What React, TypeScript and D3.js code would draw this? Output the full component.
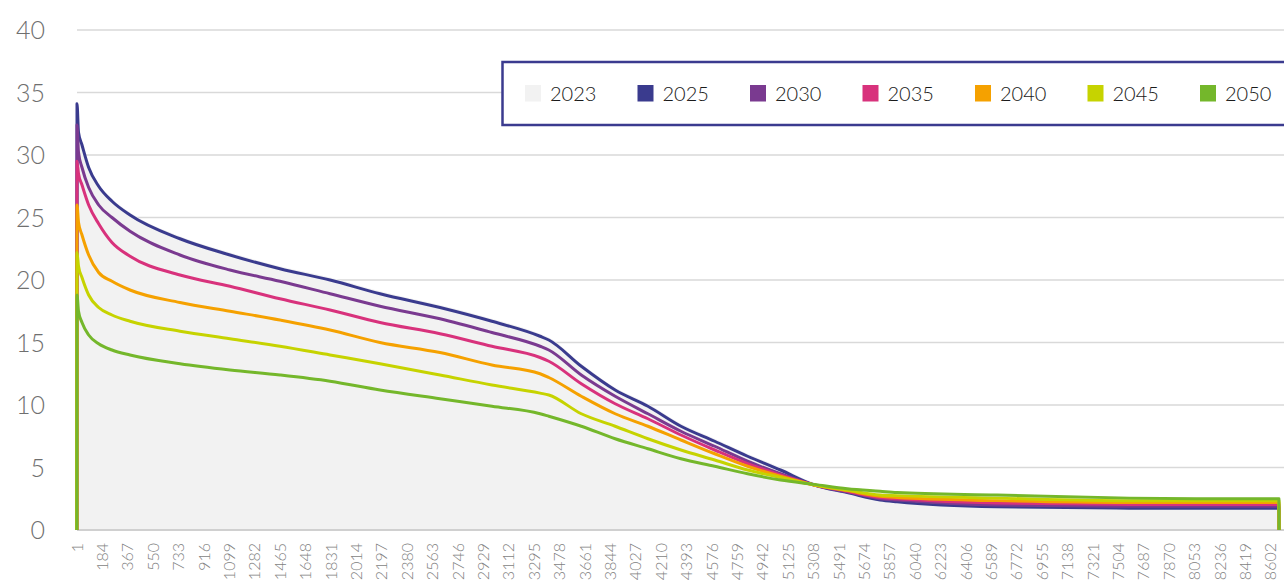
import React from 'react';
import * as d3 from 'd3';

// ─── 数据（从图上读取的负荷持续曲线） ───────────────────────────

const HOURS = [0, 1, 12, 37, 85, 157, 253, 383, 743, 1103, 1463, 1824, 2184, 2616, 2990, 3337, 3400, 3634, 3878, 4114, 4352, 4595, 4832, 5069, 5313, 5550, 5787, 5909, 6627, 7582, 8063, 8660, 8661];

const V2023 = [0, 34.3, 32.0, 31.0, 29.2, 27.7, 26.5, 25.4, 23.5, 22.2, 21.1, 20.2, 19.1, 18.0, 16.9, 15.7, 15.4, 13.3, 11.4, 10.1, 8.5, 7.3, 6.1, 5.0, 3.8, 3.4, 3.2, 3.1, 2.9, 2.65, 2.6, 2.6, 0];
const V2025 = [0, 34.1, 31.8, 30.8, 29.0, 27.5, 26.3, 25.2, 23.3, 22.0, 20.9, 20.0, 18.9, 17.8, 16.7, 15.5, 15.2, 13.1, 11.2, 9.9, 8.3, 7.1, 5.9, 4.8, 3.6, 3.0, 2.4, 2.25, 1.85, 1.75, 1.75, 1.75, 0];
const V2030 = [0, 32.4, 30.2, 29.0, 27.4, 26.0, 25.0, 23.9, 22.0, 20.8, 19.9, 18.9, 17.9, 16.9, 15.8, 14.7, 14.4, 12.4, 10.7, 9.3, 7.9, 6.7, 5.5, 4.5, 3.6, 3.05, 2.5, 2.4, 2.0, 1.9, 1.9, 1.9, 0];
const V2035 = [0, 29.5, 28.5, 27.6, 26.0, 24.5, 23.0, 21.9, 20.4, 19.5, 18.5, 17.6, 16.6, 15.7, 14.7, 13.8, 13.5, 11.7, 10.1, 8.9, 7.6, 6.4, 5.3, 4.4, 3.6, 3.1, 2.6, 2.5, 2.15, 2.05, 2.05, 2.05, 0];
const V2040 = [0, 26.0, 24.6, 23.6, 22.0, 20.6, 19.9, 19.2, 18.2, 17.5, 16.8, 16.0, 15.0, 14.2, 13.2, 12.5, 12.2, 10.7, 9.3, 8.3, 7.2, 6.1, 5.1, 4.3, 3.6, 3.15, 2.7, 2.6, 2.35, 2.2, 2.2, 2.2, 0];
const V2045 = [0, 22.2, 21.1, 20.2, 18.8, 17.8, 17.2, 16.7, 15.9, 15.3, 14.7, 14.0, 13.3, 12.4, 11.6, 10.95, 10.8, 9.3, 8.3, 7.3, 6.4, 5.6, 4.8, 4.2, 3.6, 3.2, 2.8, 2.75, 2.55, 2.35, 2.35, 2.35, 0];
const V2050 = [0, 18.8, 17.5, 16.6, 15.6, 14.9, 14.4, 14.0, 13.3, 12.8, 12.4, 11.9, 11.2, 10.5, 9.9, 9.3, 9.1, 8.3, 7.3, 6.5, 5.7, 5.1, 4.5, 4.0, 3.65, 3.3, 3.1, 3.0, 2.8, 2.55, 2.5, 2.5, 0];

const LINE_SERIES = [
  { name: '2025', color: '#3a3b8e', values: V2025 },
  { name: '2030', color: '#7a3a90', values: V2030 },
  { name: '2035', color: '#d8327c', values: V2035 },
  { name: '2040', color: '#f5a100', values: V2040 },
  { name: '2045', color: '#c6d300', values: V2045 },
  { name: '2050', color: '#74b72b', values: V2050 },
];

const AREA_NAME = '2023';
const AREA_COLOR = '#f2f2f2';

const Y_TICKS = [0, 5, 10, 15, 20, 25, 30, 35, 40];

const X_TICKS = [1, 184, 367, 550, 733, 916, 1099, 1282, 1465, 1648, 1831, 2014, 2197, 2380, 2563, 2746, 2929, 3112, 3295, 3478, 3661, 3844, 4027, 4210, 4393, 4576, 4759, 4942, 5125, 5308, 5491, 5674, 5857, 6040, 6223, 6406, 6589, 6772, 6955, 7138, 7321, 7504, 7687, 7870, 8053, 8236, 8419, 8602];

// ─── 布局 ───────────────────────────────────────────────────

const W = 1284;
const H = 583;
const FONT = 'Lato, "Open Sans", sans-serif';

const x = d3.scaleLinear().domain([1, 8760]).range([77, 1292.8]);
const y = d3.scaleLinear().domain([0, 40]).range([530, 30]);

const line = d3.line<number>()
  .x((_, i) => x(HOURS[i]))
  .y(d => y(d))
  .curve(d3.curveMonotoneX);

const area = d3.area<number>()
  .x((_, i) => x(HOURS[i]))
  .y0(y(0))
  .y1(d => y(d))
  .curve(d3.curveMonotoneX);

export default function App() {
  const legendItems = [{ name: AREA_NAME, color: AREA_COLOR }, ...LINE_SERIES];

  return (
    <svg
      width={W}
      height={H}
      style={{ position: 'absolute', left: 0, top: 0, background: '#fff' }}
      fontFamily={FONT}
    >
      {/* 网格线 */}
      {Y_TICKS.filter(t => t > 0).map(t => (
        <line key={t} x1={77} x2={W} y1={y(t)} y2={y(t)} stroke="#d9d9d9" strokeWidth={1.5} />
      ))}

      {/* 2023 面积 */}
      <path d={area(V2023) ?? ''} fill={AREA_COLOR} />

      {/* 零线 */}
      <line x1={77} x2={W} y1={y(0)} y2={y(0)} stroke="#d0d0d0" strokeWidth={2} />

      {/* 各年份曲线 */}
      {LINE_SERIES.map(s => (
        <path
          key={s.name}
          d={line(s.values) ?? ''}
          fill="none"
          stroke={s.color}
          strokeWidth={3}
          strokeLinejoin="round"
        />
      ))}

      {/* Y 轴标签 */}
      {Y_TICKS.map(t => (
        <text key={t} x={45} y={y(t) + 9} textAnchor="end" fontSize={25} fontWeight={300} fill="#6f6f6f">
          {t}
        </text>
      ))}

      {/* X 轴标签 */}
      {X_TICKS.map(t => (
        <text
          key={t}
          transform={`translate(${x(t)},543) rotate(-90)`}
          textAnchor="end"
          dy="0.35em"
          fontSize={16}
          fontWeight={300}
          fill="#7f7f7f"
        >
          {t}
        </text>
      ))}

      {/* 图例 */}
      <rect x={502.5} y={62} width={800} height={63} fill="#fff" stroke="#3b3b8f" strokeWidth={2.5} />
      {legendItems.map((s, i) => (
        <g key={s.name} transform={`translate(${525 + i * 112.5},85)`}>
          <rect width={16} height={16.5} fill={s.color} />
          <text x={25} y={16} fontSize={20} fontWeight={300} fill="#1a1a1a">{s.name}</text>
        </g>
      ))}
    </svg>
  );
}
